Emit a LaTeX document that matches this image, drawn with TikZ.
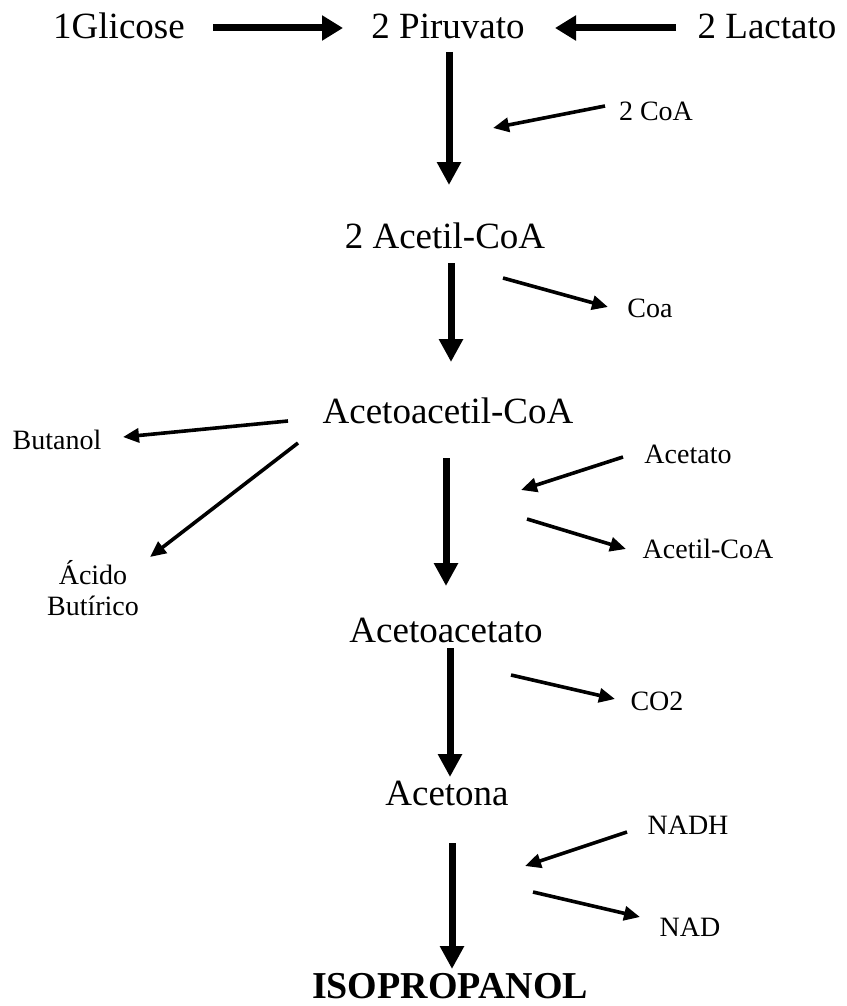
\documentclass[tikz,border=0pt]{standalone}
\usepackage{fontspec}
\setmainfont{Liberation Serif}
\usetikzlibrary{arrows.meta}
\tikzset{
  big/.style={font=\fontsize{37}{40}\selectfont, inner sep=0pt},
  small/.style={font=\fontsize{28}{31}\selectfont, inner sep=0pt, align=center},
  final/.style={font=\fontsize{38}{41}\selectfont\bfseries, inner sep=0pt},
  mainarrow/.style={line width=7pt, -{Triangle[length=23pt,width=23pt]}},
  toparrow/.style={line width=7pt, -{Triangle[length=21pt,width=24pt]}},
  sidearrow/.style={line width=3.6pt, -{Triangle[length=16pt,width=14pt]}}
}
\begin{document}
\begin{tikzpicture}[x=1pt,y=-1pt]
\useasboundingbox (0,0) rectangle (846,1006);
% nodes
\node[big] (gli) at (119,26) {1Glicose};
\node[big] (piru) at (448,26) {2 Piruvato};
\node[big] (lac) at (767,26) {2 Lactato};
\node[small] (coa2) at (656,111) {2 CoA};
\node[big] (acet) at (445,236) {2 Acetil-CoA};
\node[small] (coa) at (650,308) {Coa};
\node[big] (aac) at (448,411) {Acetoacetil-CoA};
\node[small] (but) at (57,440) {Butanol};
\node[small] (acido) at (93,588) {Ácido\\Butírico};
\node[small] (acetato) at (688,454) {Acetato};
\node[small] (acetcoa) at (708,549) {Acetil-CoA};
\node[big] (aacto) at (446,630) {Acetoacetato};
\node[small] (co2) at (657,701) {CO2};
\node[big] (acetona) at (447,793) {Acetona};
\node[small] (nadh) at (688,825) {NADH};
\node[small] (nad) at (690,927) {NAD};
\node[final] (iso) at (450,986) {ISOPROPANOL};
% arrow end points
\coordinate (h1a) at (213,28); \coordinate (h1b) at (343,28);
\coordinate (h2a) at (676,28); \coordinate (h2b) at (555,28);
\coordinate (v1a) at (449,52);  \coordinate (v1b) at (449,185);
\coordinate (v2a) at (451,263); \coordinate (v2b) at (451,362);
\coordinate (v3a) at (446,458); \coordinate (v3b) at (446,586);
\coordinate (v4a) at (450,648); \coordinate (v4b) at (450,777);
\coordinate (v5a) at (452,843); \coordinate (v5b) at (452,969);
\coordinate (s1a) at (605,106); \coordinate (s1b) at (493,128);
\coordinate (s2a) at (503,278); \coordinate (s2b) at (608,307);
\coordinate (s3a) at (288,421); \coordinate (s3b) at (123,437);
\coordinate (s4a) at (298,443); \coordinate (s4b) at (150,557);
\coordinate (s5a) at (623,457); \coordinate (s5b) at (521,490);
\coordinate (s6a) at (527,519); \coordinate (s6b) at (626,549);
\coordinate (s7a) at (511,675); \coordinate (s7b) at (615,699);
\coordinate (s8a) at (627,832); \coordinate (s8b) at (525,866);
\coordinate (s9a) at (533,892); \coordinate (s9b) at (640,917);
% arrows
\draw[toparrow] (h1a) -- (h1b);
\draw[toparrow] (h2a) -- (h2b);
\draw[mainarrow] (v1a) -- (v1b);
\draw[mainarrow] (v2a) -- (v2b);
\draw[mainarrow] (v3a) -- (v3b);
\draw[mainarrow] (v4a) -- (v4b);
\draw[mainarrow] (v5a) -- (v5b);
\draw[sidearrow] (s1a) -- (s1b);
\draw[sidearrow] (s2a) -- (s2b);
\draw[sidearrow] (s3a) -- (s3b);
\draw[sidearrow] (s4a) -- (s4b);
\draw[sidearrow] (s5a) -- (s5b);
\draw[sidearrow] (s6a) -- (s6b);
\draw[sidearrow] (s7a) -- (s7b);
\draw[sidearrow] (s8a) -- (s8b);
\draw[sidearrow] (s9a) -- (s9b);
\end{tikzpicture}
\end{document}
